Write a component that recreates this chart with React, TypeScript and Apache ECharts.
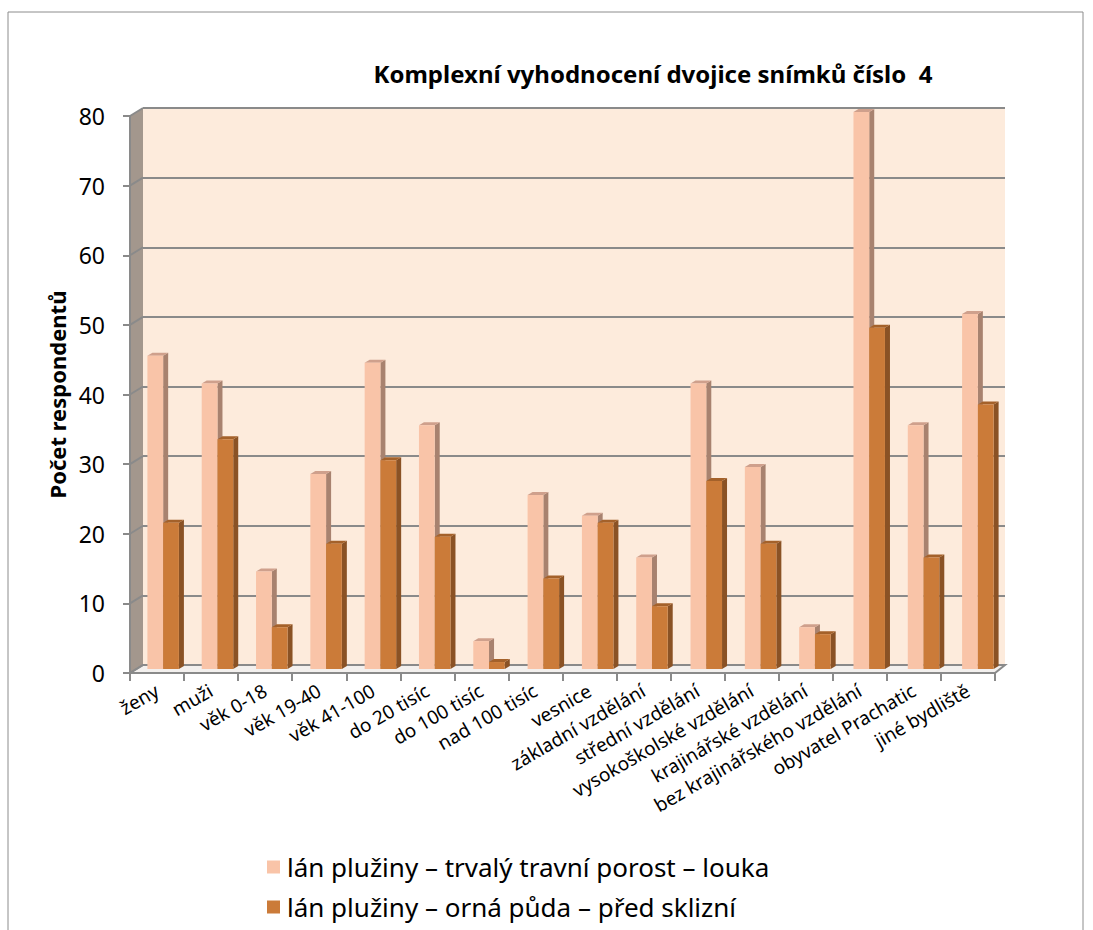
import React, { useEffect, useRef } from "react";
import * as echarts from "echarts";

const categories = [
  "ženy",
  "muži",
  "věk 0-18",
  "věk 19-40",
  "věk 41-100",
  "do 20 tisíc",
  "do 100 tisíc",
  "nad 100 tisíc",
  "vesnice",
  "základní vzdělání",
  "střední vzdělání",
  "vysokoškolské vzdělání",
  "krajinářské vzdělání",
  "bez krajinářského vzdělání",
  "obyvatel Prachatic",
  "jiné bydliště",
];
const seriesNames = [
  "lán plužiny – trvalý travní porost – louka",
  "lán plužiny – orná půda – před sklizní",
];
const meadowValues = [45, 41, 14, 28, 44, 35, 4, 25, 22, 16, 41, 29, 6, 80, 35, 51];
const fieldValues = [21, 33, 6, 18, 30, 19, 1, 13, 21, 9, 27, 18, 5, 49, 16, 38];
const yTicks = [0, 10, 20, 30, 40, 50, 60, 70, 80];

const FONT = "'Noto Sans', 'DejaVu Sans', sans-serif";

const faceColors = [
  { front: "#F9C4A8", side: "#A8826F", top: "#CFA08C" },
  { front: "#CB7B39", side: "#8A5225", top: "#A4612A" },
];

export default function App() {
  const ref = useRef<HTMLDivElement>(null);
  useEffect(() => {
    if (!ref.current) return;
    const chart = echarts.init(ref.current, null, { renderer: "svg" });

    // 3D frame geometry (back wall / front axis)
    const fL = 130, fT = 116, fR = 995, fB = 673; // front plane
    const dX = 13, dY = -8; // depth offset of back wall
    const yMax = 80;
    const yPix = (v: number) => fT + ((yMax - v) / yMax) * (fB - fT);

    const wallGrid: any[] = yTicks.map((v) => ({
      type: "line",
      z: 1,
      shape: { x1: fL, y1: yPix(v), x2: fL + dX, y2: yPix(v) + dY },
      style: { stroke: "#8A8A8A", lineWidth: 2 },
    }));

    const dx = 5, dy = -3;
    const renderBar = (si: number) => (params: any, api: any) => {
      const idx = api.value(0);
      const val = api.value(1);
      const top = api.coord([idx, val]);
      const base = api.coord([idx, 0]);
      const catW = api.size([1, 0])[0];
      const w = catW * 0.29;
      const x0 = si === 0 ? top[0] - w : top[0];
      const yT = top[1];
      const yB = base[1];
      const c = faceColors[si];
      return {
        type: "group",
        children: [
          {
            type: "polygon",
            shape: {
              points: [
                [x0 + w, yT],
                [x0 + w + dx, yT + dy],
                [x0 + w + dx, yB + dy],
                [x0 + w, yB],
              ],
            },
            style: { fill: c.side },
          },
          {
            type: "polygon",
            shape: {
              points: [
                [x0, yT],
                [x0 + dx, yT + dy],
                [x0 + w + dx, yT + dy],
                [x0 + w, yT],
              ],
            },
            style: { fill: c.top },
          },
          {
            type: "rect",
            shape: { x: x0, y: yT, width: w, height: yB - yT },
            style: { fill: c.front },
          },
        ],
      };
    };

    chart.setOption({
      animation: false,
      color: [faceColors[0].front, faceColors[1].front],
      textStyle: { fontFamily: FONT },
      title: {
        text: "Komplexní vyhodnocení dvojice snímků číslo  4",
        left: 648,
        top: 56,
        textAlign: "center",
        textStyle: { fontFamily: FONT, fontSize: 24, fontWeight: "bold", color: "#000" },
      },
      legend: {
        orient: "vertical",
        left: 262,
        top: 849,
        itemWidth: 13,
        itemHeight: 13,
        itemGap: 14,
        itemStyle: { borderWidth: 0 },
        icon: "rect",
        data: seriesNames,
        textStyle: { fontFamily: FONT, fontSize: 26, lineHeight: 26, color: "#000", padding: [0, 0, 0, 2] },
      },
      grid: [
        {
          left: fL + dX,
          top: fT + dY,
          width: fR - fL - 3,
          height: fB - fT,
          show: true,
          backgroundColor: "#FDEBDC",
          borderWidth: 0,
        },
        { left: fL, top: fT, width: fR - fL, height: fB - fT },
        { left: fL + 6, top: fT - 4, width: fR - fL + 4, height: fB - fT },
      ],
      xAxis: [
        { type: "category", gridIndex: 0, data: categories, show: false },
        {
          type: "category",
          gridIndex: 1,
          data: categories,
          axisLine: { show: true, lineStyle: { color: "#8A8A8A", width: 2 } },
          axisTick: { show: true, length: 8, lineStyle: { color: "#8A8A8A", width: 2 } },
          axisLabel: {
            rotate: 30,
            interval: 0,
            fontSize: 19,
            color: "#000",
            margin: 16,
            fontFamily: FONT,
          },
        },
        { type: "category", gridIndex: 2, data: categories, show: false },
      ],
      yAxis: [
        {
          type: "value",
          gridIndex: 0,
          min: 0,
          max: yMax,
          interval: 10,
          axisLabel: { show: false },
          axisLine: { show: false },
          axisTick: { show: false },
          splitLine: { show: true, lineStyle: { color: "#8A8A8A", width: 2 } },
        },
        {
          type: "value",
          gridIndex: 1,
          min: 0,
          max: yMax,
          interval: 10,
          name: "Počet respondentů",
          nameLocation: "middle",
          nameGap: 58,
          nameRotate: 90,
          nameTextStyle: { fontFamily: FONT, fontSize: 22, fontWeight: "bold", color: "#000" },
          axisLine: { show: true, lineStyle: { color: "#8A8A8A", width: 2 } },
          axisTick: { show: true, length: 7, lineStyle: { color: "#8A8A8A", width: 2 } },
          axisLabel: { fontSize: 23, color: "#000", margin: 25, fontFamily: FONT },
          splitLine: { show: false },
        },
        {
          type: "value",
          gridIndex: 2,
          min: 0,
          max: yMax,
          interval: 10,
          show: false,
          splitLine: { show: false },
        },
      ],
      graphic: [
        {
          type: "rect",
          z: -10,
          shape: { x: 8, y: 12, width: 1075, height: 940 },
          style: { fill: "#fff", stroke: "#8C8C8C", lineWidth: 1 },
        },
        {
          type: "polygon",
          z: 0,
          shape: {
            points: [
              [fL, fT],
              [fL + dX, fT + dY],
              [fL + dX, fB + dY],
              [fL, fB],
            ],
          },
          style: { fill: "#A3978D" },
        },
        {
          type: "polygon",
          z: 0,
          shape: {
            points: [
              [fL, fB],
              [fL + dX, fB + dY],
              [fR + dX - 3, fB + dY],
              [fR, fB],
            ],
          },
          style: { fill: "#F3F0EE", stroke: "#8A8A8A", lineWidth: 2 },
        },
        {
          type: "line",
          z: 1,
          shape: { x1: fL + dX, y1: fT + dY, x2: fR + dX - 3, y2: fT + dY },
          style: { stroke: "#8A8A8A", lineWidth: 2 },
        },
        ...wallGrid,
      ],
      series: [
        {
          name: seriesNames[0],
          type: "custom",
          xAxisIndex: 2,
          yAxisIndex: 2,
          z: 5,
          itemStyle: { color: faceColors[0].front },
          renderItem: renderBar(0),
          data: meadowValues.map((v, i) => [i, v]),
        },
        {
          name: seriesNames[1],
          type: "custom",
          xAxisIndex: 2,
          yAxisIndex: 2,
          z: 6,
          itemStyle: { color: faceColors[1].front },
          renderItem: renderBar(1),
          data: fieldValues.map((v, i) => [i, v]),
        },
      ],
    });
    return () => chart.dispose();
  }, []);

  return (
    <div
      ref={ref}
      style={{ position: "fixed", left: 0, top: 0, width: 1093, height: 930, background: "#fff" }}
    />
  );
}
